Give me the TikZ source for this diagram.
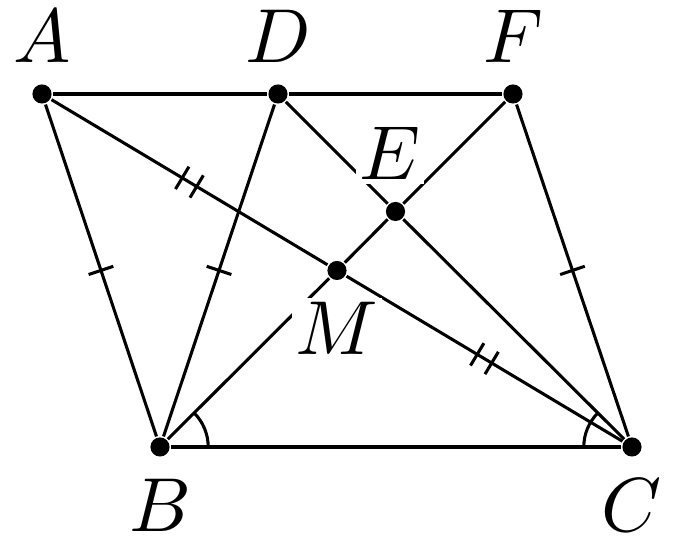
\documentclass[tikz,border=0pt]{standalone}
\usetikzlibrary{positioning,angles,decorations.markings}

\tikzset{
  pt/.style={circle, fill, inner sep=0pt, minimum size=2.5pt},
  lbl/.style={fill=white, inner sep=0.5pt},
  onetick/.style={postaction={decorate, decoration={markings,
      mark=at position 0.5 with {\draw (0,-1.7pt) -- (0,1.7pt);}}}},
  twotick/.style={postaction={decorate, decoration={markings,
      mark=at position 0.5 with {\draw (-1.1pt,-1.7pt) -- (-1.1pt,1.7pt);
                                 \draw (1.1pt,-1.7pt) -- (1.1pt,1.7pt);}}}}
}

\begin{document}
\begin{tikzpicture}[x=0.0046cm, y=-0.0046cm]
		\useasboundingbox (0,0) rectangle (683,548);
		\node[pt] (A) at (42,94) {};
		\node[pt] (D) at (278,94) {};
		\node[pt] (F) at (513,94) {};
		\node[pt] (B) at (160,447) {};
		\node[pt] (C) at (632,447) {};
		\node[pt] (M) at (337,270.5) {};
		\node[pt] (E) at (395.5,211.5) {};

		\path[draw]
		  (A) edge (D)
		  (D) edge (F)
		  (B) edge (C)
		  (A) edge[onetick] (B)
		  (D) edge[onetick] (B)
		  (F) edge[onetick] (C)
		  (A) edge[twotick] (M)
		  (M) edge[twotick] (C)
		  (B) edge (M)
		  (M) edge (E)
		  (E) edge (F)
		  (D) edge (E)
		  (E) edge (C);

		\pic[draw, angle radius=6.3pt] {angle=C--B--F};
		\pic[draw, angle radius=6.3pt] {angle=D--C--B};

		\node[lbl, above=2pt of A] {$A$};
		\node[lbl, above=2pt of D] {$D$};
		\node[lbl, above=2pt of F] {$F$};
		\node[lbl, above=2pt of E, xshift=-0.7pt] {$E$};
		\node[lbl, below=2pt of M] {$M$};
		\node[lbl, below=2pt of B] {$B$};
		\node[lbl, below=2pt of C] {$C$};
	       \end{tikzpicture}
\end{document}
